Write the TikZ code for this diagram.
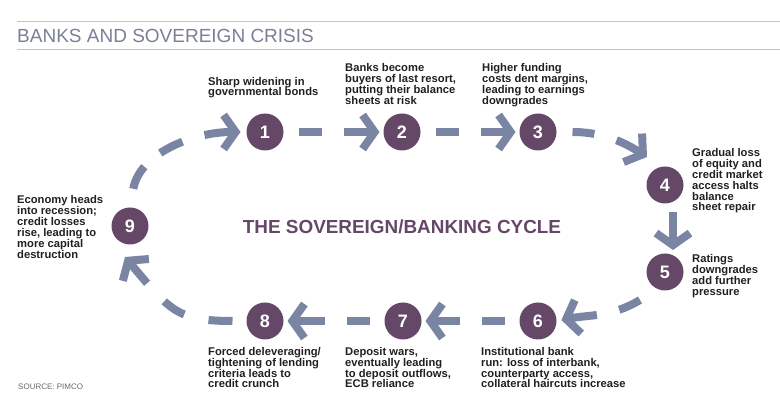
\documentclass[tikz,border=0pt]{standalone}
\usepackage{fontspec}
\setmainfont{Liberation Sans}
\usetikzlibrary{arrows.meta,calc}
\definecolor{arrowc}{HTML}{7A84A3}
\definecolor{purp}{HTML}{654868}
\definecolor{txt}{HTML}{231F20}
\definecolor{headc}{HTML}{7B8099}
\definecolor{rulec}{HTML}{BFC2CE}
\definecolor{srcc}{HTML}{6A6A6A}
\begin{document}
\begin{tikzpicture}[x=1pt,y=1pt,
  circ/.style={circle, fill=purp, minimum size=37pt, inner sep=0pt, outer sep=0pt, text=white, font=\bfseries\fontsize{18}{18}\selectfont},
  lbl/.style={anchor=base west, align=left, inner sep=0pt, text=txt, font=\bfseries\fontsize{11.2}{10.9}\selectfont},
  conn/.style={draw=arrowc, line width=8pt, line cap=butt, -{Straight Barb[length=12pt,width=34pt,line width=8pt]}},
  straightconn/.style={conn, shorten <=15pt, shorten >=4pt, dash pattern=on 23pt off 22pt on 400pt}]
\useasboundingbox (0,0) rectangle (780,420);
\fill[white] (0,0) rectangle (780,420);
% header
\draw[rulec, line width=1pt] (17,398.5) -- (780,398.5);
\draw[rulec, line width=1pt] (17,370.5) -- (780,370.5);
\node[anchor=base west, inner sep=0pt, text=headc, font=\fontsize{19}{20}\selectfont] (head) at (17,377) {BANKS AND SOVEREIGN CRISIS};
\node[anchor=base west, inner sep=0pt, text=srcc, font=\fontsize{8}{9}\selectfont] (src) at (18,30) {SOURCE: PIMCO};
\node[anchor=base, inner sep=0pt, text=purp, font=\bfseries\fontsize{18.9}{20}\selectfont] (title) at (402,186) {THE SOVEREIGN/BANKING CYCLE};
% circles
\node[circ] (n1) at (265,288) {1};
\node[circ] (n2) at (402,288) {2};
\node[circ] (n3) at (538,288) {3};
\node[circ] (n4) at (665,235) {4};
\node[circ] (n5) at (665,148) {5};
\node[circ] (n6) at (538,99) {6};
\node[circ] (n7) at (403,99) {7};
\node[circ] (n8) at (265,99) {8};
\node[circ] (n9) at (130,194) {9};
% labels (anchor = baseline of the last line)
\node[lbl] (l1) at (208,324) {Sharp widening in\\governmental bonds};
\node[lbl] (l2) at (345,315.3) {Banks become\\buyers of last resort,\\putting their balance\\sheets at risk};
\node[lbl] (l3) at (482,315.3) {Higher funding\\costs dent margins,\\leading to earnings\\downgrades};
\node[lbl] (l4) at (692,209) {Gradual loss\\of equity and\\credit market\\access halts\\balance\\sheet repair};
\node[lbl] (l5) at (692,124.3) {Ratings\\downgrades\\add further\\pressure};
\node[lbl] (l6) at (481,32) {Institutional bank\\run: loss of interbank,\\counterparty access,\\collateral haircuts increase};
\node[lbl] (l7) at (345,32) {Deposit wars,\\eventually leading\\to deposit outflows,\\ECB reliance};
\node[lbl] (l8) at (208,32) {Forced deleveraging/\\tightening of lending\\criteria leads to\\credit crunch};
\node[lbl] (l9) at (17,161.7) {Economy heads\\into recession;\\credit losses\\rise, leading to\\more capital\\destruction};
% connectors
\draw[straightconn] (n1.east) -- (n2.west);
\draw[straightconn] (n2.east) -- (n3.west);
\draw[conn, shorten <=16pt, dash pattern=on 22pt off 23pt on 400pt] (n3.east) to[out=0, in=147] ($(n4)+(-18,28)$);
\draw[conn, shorten <=8.5pt, shorten >=3.5pt] ($(n4.south)+(8,0)$) -- ($(n5.north)+(8,0)$);
\draw[conn, shorten <=0pt, shorten >=5pt, dash pattern=on 23pt off 23pt on 400pt] ($(n5)+(-25,-28)$) to[out=211, in=11] (n6.east);
\draw[straightconn] (n6.west) -- (n7.east);
\draw[straightconn] (n7.west) -- (n8.east);
\draw[conn, shorten <=14pt, dash pattern=on 24pt off 25pt on 24pt off 25pt on 400pt] (n8.west) to[out=180, in=310, looseness=1.3] ($(n9)+(-5,-31)$);
\draw[conn, shorten <=19pt, shorten >=6pt, dash pattern=on 25pt off 21pt on 25pt off 23pt on 400pt] (n9.north) to[out=80, in=180] (n1.west);
\end{tikzpicture}
\end{document}
